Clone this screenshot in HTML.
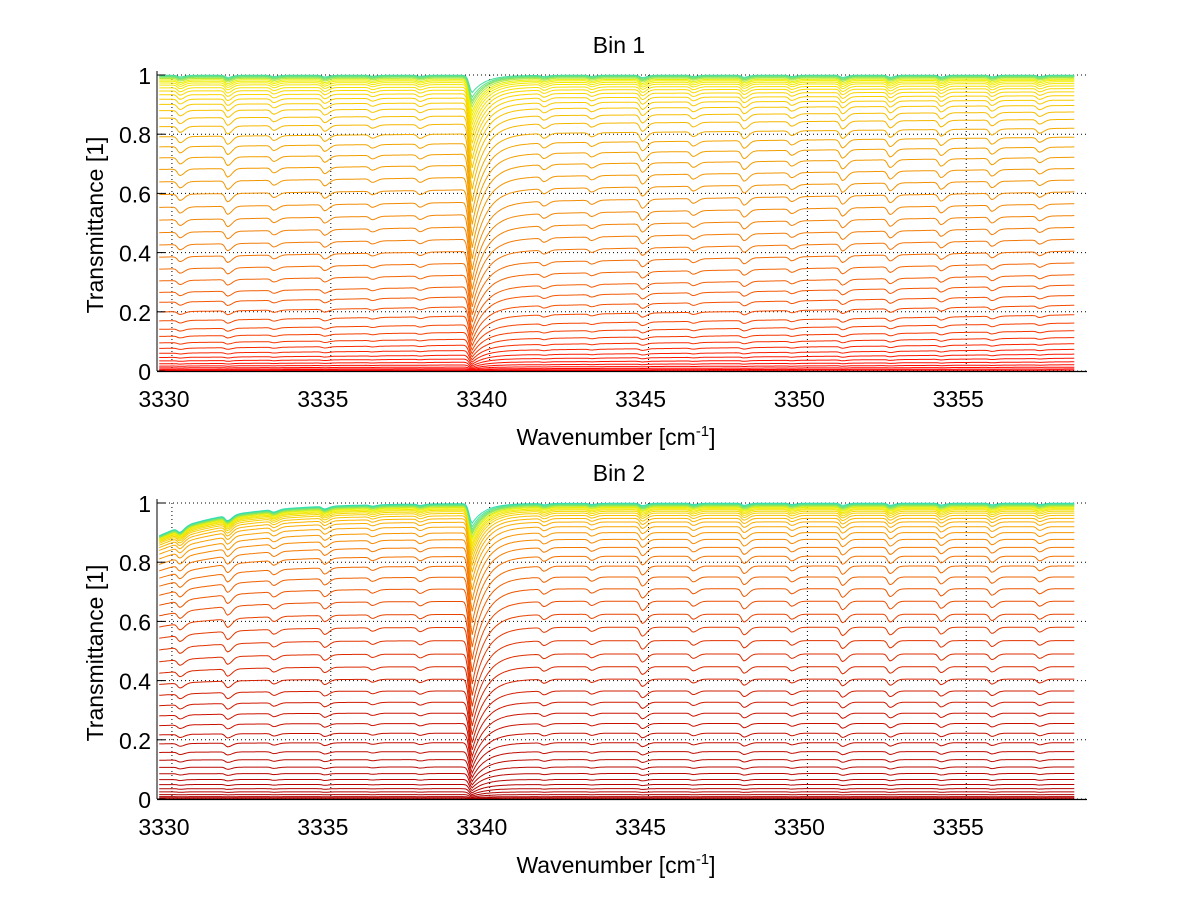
<!DOCTYPE html>
<html><head><meta charset="utf-8">
<style>
body{margin:0;background:#fff;}
svg{display:block;font-family:"Liberation Sans",sans-serif;}
</style></head>
<body>
<svg id="chart" width="1200" height="901" viewBox="0 0 1200 901" xmlns="http://www.w3.org/2000/svg">
<rect width="1200" height="901" fill="#fff"/>
</svg>
<script>
// ---- data ----
const xTicks = [3330, 3335, 3340, 3345, 3350, 3355];
const yTicks = [0, 0.2, 0.4, 0.6, 0.8, 1];
const yTickLabels = ["0", "0.2", "0.4", "0.6", "0.8", "1"];
const mainLineCenter = 3339.45;
const smallLineCenters = [3330.25, 3331.75, 3333.2, 3334.8, 3336.3, 3337.8, 3341.7, 3343.2, 3344.8, 3346.4, 3348.0, 3349.5, 3351.1, 3352.6, 3354.2, 3355.8, 3357.3];
const smallLineStrengths = [0.09, 0.12, 0.07, 0.09, 0.05, 0.06, 0.07, 0.06, 0.13, 0.07, 0.11, 0.07, 0.12, 0.11, 0.1, 0.09, 0.07];
const bin1Levels = [0.999,0.997,0.995,0.993,0.99,0.986,0.982,0.977,0.971,0.963,0.954,0.943,0.93,0.915,0.897,0.875,0.85,0.82,0.79,0.757,0.722,0.684,0.645,0.605,0.565,0.525,0.485,0.445,0.405,0.365,0.325,0.29,0.255,0.222,0.19,0.162,0.136,0.113,0.092,0.073,0.057,0.043,0.031,0.021,0.013,0.007,0.003];
const bin2Levels = [0.999,0.997,0.995,0.993,0.991,0.988,0.985,0.981,0.977,0.972,0.966,0.958,0.948,0.936,0.92,0.9,0.877,0.85,0.82,0.787,0.75,0.71,0.668,0.624,0.58,0.535,0.49,0.447,0.405,0.365,0.327,0.29,0.255,0.222,0.19,0.16,0.133,0.108,0.086,0.066,0.049,0.035,0.024,0.015,0.008,0.004,0.002];
const bin1Colors = [[0,[255,0,0]],[0.15,[245,60,0]],[0.45,[242,120,10]],[0.8,[242,165,0]],[0.95,[250,215,0]],[0.985,[240,240,0]],[1.0,[60,220,170]]];
const bin2Colors = [[0,[175,0,0]],[0.3,[205,20,0]],[0.6,[230,60,0]],[0.85,[245,120,0]],[0.95,[250,180,0]],[0.985,[240,240,0]],[1.0,[40,220,190]]];

// ---- layout ----
const NS = "http://www.w3.org/2000/svg";
const svg = document.getElementById("chart");
const xMin = 3329.53, xMax = 3358.8, axL = 157, axR = 1087;
const xs = v => axL + (v - xMin) / (xMax - xMin) * (axR - axL);

function el(tag, attrs, parent){
  const e = document.createElementNS(NS, tag);
  for (const k in attrs) e.setAttribute(k, attrs[k]);
  (parent || svg).appendChild(e);
  return e;
}
function colorFor(t, stops){
  for (let i = 1; i < stops.length; i++){
    if (t <= stops[i][0]){
      const a = stops[i-1], b = stops[i];
      const f = (t - a[0]) / (b[0] - a[0] || 1);
      const c = a[1].map((v, j) => Math.round(v + (b[1][j] - v) * f));
      return "rgb(" + c.join(",") + ")";
    }
  }
  const c = stops[stops.length-1][1];
  return "rgb(" + c.join(",") + ")";
}
function absorb(x){
  let p = 0;
  const d = x - mainLineCenter;
  p += d < 0 ? Math.exp(-Math.pow(d / 0.12, 2)) : Math.exp(-d / 0.42);
  for (let i = 0; i < smallLineCenters.length; i++){
    const e = x - smallLineCenters[i];
    const w = e < 0 ? 0.1 : 0.2;
    p += smallLineStrengths[i] * Math.exp(-Math.pow(e / w, 2));
  }
  return p;
}

function panel(cfg){
  const g = el("g", {});
  
  
  const ys = v => cfg.y0 - v * (cfg.y0 - cfg.y1);
  xTicks.forEach(t => {
    const l = el("line", {x1: xs(t), x2: xs(t), y1: cfg.y1, y2: cfg.y0, stroke: "#000", "stroke-width": 1, "stroke-dasharray": "1,3"}, g);
    
    
  });
  yTicks.forEach(t => {
    const l = el("line", {x1: axL, x2: axR, y1: ys(t), y2: ys(t), stroke: "#000", "stroke-width": 1, "stroke-dasharray": "1,3"}, g);
    
    
  });
  const levels = cfg.levels;
  for (let k = levels.length - 1; k >= 0; k--){
    const tr = levels[k];
    let pts = [];
    for (let i = 0; i <= 576; i++){
      const x = 3329.6 + i * 0.05;
      let t0;
      if (cfg.bin === 1){
        const f = (x - 3329.6) / (3358.4 - 3329.6);
        t0 = Math.pow(tr, 1.18 - 0.18 * f);
      } else {
        t0 = tr - 0.11 * tr * tr * Math.exp(-(x - 3329.6) / 2.2);
      }
      const a = absorb(x);
      const r = Math.min(0.9, a * 0.55 * Math.sqrt(Math.max(0, 1 - t0)) + a * 0.04);
      const t = t0 * (1 - r);
      pts.push(xs(x).toFixed(1) + "," + ys(t).toFixed(1));
    }
    const pl = el("polyline", {points: pts.join(" "), fill: "none", stroke: colorFor(tr, cfg.colors), "stroke-width": 1}, g);
    
    
  }
  const la = el("line", {x1: axL, x2: axL, y1: cfg.y1 - 4, y2: cfg.y0, stroke: "#000", "stroke-width": 1}, g);
  
  
  const ba = el("line", {x1: axL, x2: axR, y1: cfg.y0 + 0.5, y2: cfg.y0 + 0.5, stroke: "#000", "stroke-width": 1.2}, g);
  
  
  yTicks.forEach((t, i) => {
    const tk = el("line", {x1: axL, x2: axL + 8, y1: ys(t), y2: ys(t), stroke: "#000"}, g);
    
    
    const tx = el("text", {x: 151, y: ys(t) + 9, "text-anchor": "end", "font-size": 23, fill: "#000"}, g);
    tx.textContent = yTickLabels[i];
    
    
  });
  xTicks.forEach(t => {
    const tx = el("text", {x: xs(t) - 8, y: cfg.y0 + 36, "text-anchor": "middle", "font-size": 23, fill: "#000"}, g);
    tx.textContent = String(t);
    
    
  });
  const ti = el("text", {x: 619, y: cfg.y1 - 22, "text-anchor": "middle", "font-size": 23, fill: "#000"}, g);
  ti.textContent = cfg.title;
  
  
  const xl = el("text", {x: 616, y: cfg.y0 + 74, "text-anchor": "middle", "font-size": 23, fill: "#000"}, g);
  xl.innerHTML = 'Wavenumber [cm<tspan dy="-9" font-size="15">-1</tspan><tspan dy="9">]</tspan>';
  
  
  const yl = el("text", {x: 0, y: 0, "text-anchor": "middle", "font-size": 23, fill: "#000", transform: "translate(103," + ((cfg.y0 + cfg.y1) / 2 + 2) + ") rotate(-90)"}, g);
  yl.textContent = "Transmittance [1]";
  
  
}

panel({name: "bin-1-panel", bin: 1, y0: 371, y1: 75, levels: bin1Levels, colors: bin1Colors, title: "Bin 1"});
panel({name: "bin-2-panel", bin: 2, y0: 799, y1: 503, levels: bin2Levels, colors: bin2Colors, title: "Bin 2"});
</script>
</body></html>
